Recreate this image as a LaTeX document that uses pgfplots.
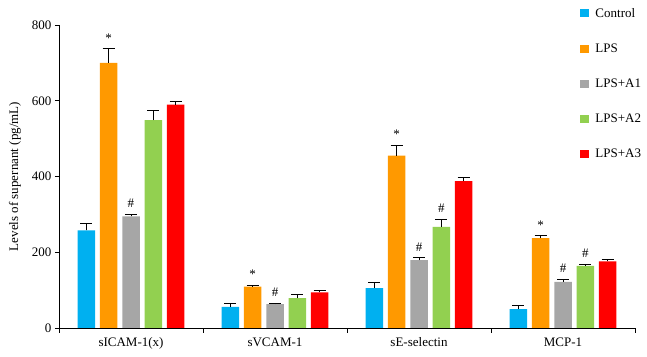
\documentclass[border=0pt]{standalone}
\usepackage{pgfplots}
\pgfplotsset{compat=1.18}
\usepackage{fontspec}
\setmainfont{Liberation Serif}
\definecolor{cCtrl}{HTML}{00B0F0}
\definecolor{cLPS}{HTML}{FF9900}
\definecolor{cA1}{HTML}{A6A6A6}
\definecolor{cA2}{HTML}{92D050}
\definecolor{cA3}{HTML}{FF0000}
\pgfplotsset{
  errb/.style={
    error bars/y dir=plus, error bars/y explicit,
    error bars/error bar style={black, line width=0.8pt},
    error bars/error mark options={black, rotate=90, mark size=6pt, line width=0.8pt}},
  ann/.style={draw=none, fill=none, forget plot,
    nodes near coords, point meta=explicit symbolic,
    every node near coord/.append style={anchor=base, yshift=6.5pt, inner sep=0pt, font=\fontsize{13}{15}\selectfont}}
}
\begin{document}
\begin{tikzpicture}
\begin{axis}[
  scale only axis, width=576pt, height=303pt,
  xmin=-0.5, xmax=3.5, ymin=0, ymax=800,
  ybar, bar width=17.5pt,
  axis x line=bottom, axis y line=left,
  axis line style={-, black, line width=0.8pt},
  clip=false,
  xtick={0,1,2,3},
  xticklabels={sICAM-1(x), sVCAM-1, sE-selectin, MCP-1},
  x tick style={draw=none},
  extra x ticks={-0.5,0.5,1.5,2.5,3.5},
  extra x tick labels={},
  extra x tick style={major tick length=5pt, tick align=outside, x tick style={draw=black, line width=0.8pt}},
  ytick={0,200,400,600,800},
  y tick style={black, line width=0.8pt},
  major tick length=4pt, tick align=outside,
  /pgf/number format/assume math mode=true,
  ticklabel style={font=\fontsize{13}{15}\selectfont},
  xticklabel style={yshift=-2pt},
  ylabel={Levels of supernant (pg/mL)},
  ylabel style={font=\fontsize{13}{15}\selectfont, at={(rel axis cs:0,0.5)}, anchor=center, yshift=44pt},
  legend style={at={(rel axis cs:0.905,1.06)}, anchor=north west, draw=none, fill=none,
    font=\fontsize{13}{15}\selectfont, row sep=23pt, inner sep=0pt,
    nodes={inner sep=1pt},
    /tikz/every odd column/.append style={column sep=5pt}},
  legend cell align=left,
  legend image code/.code={\fill[#1] (0pt,-4pt) rectangle (9pt,4pt);},
]
\addplot[fill=cCtrl, draw=none, bar shift=-44.6pt, errb] coordinates {(0,258) +- (0,19) (1,56) +- (0,9) (2,105) +- (0,16) (3,50) +- (0,10)};
\addlegendentry{Control}
\addplot[fill=cLPS, draw=none, bar shift=-22.3pt, errb] coordinates {(0,700) +- (0,37) (1,109) +- (0,4) (2,455) +- (0,27) (3,237) +- (0,7)};
\addlegendentry{LPS}
\addplot[fill=cA1, draw=none, bar shift=0pt, errb] coordinates {(0,295) +- (0,5) (1,63) +- (0,2) (2,179) +- (0,7) (3,122) +- (0,7)};
\addlegendentry{LPS+A1}
\addplot[fill=cA2, draw=none, bar shift=22.3pt, errb] coordinates {(0,549) +- (0,25) (1,79) +- (0,10) (2,267) +- (0,20) (3,164) +- (0,4)};
\addlegendentry{LPS+A2}
\addplot[fill=cA3, draw=none, bar shift=44.6pt, errb] coordinates {(0,590) +- (0,7) (1,94) +- (0,5) (2,388) +- (0,9) (3,176) +- (0,4)};
\addlegendentry{LPS+A3}
\addplot[ann, bar shift=-22.3pt] coordinates {(0,737) [*] (1,113) [*] (2,482) [*] (3,244) [*]};
\addplot[ann, bar shift=0pt] coordinates {(0,300) [\#] (1,65) [\#] (2,186) [\#] (3,129) [\#]};
\addplot[ann, bar shift=22.3pt] coordinates {(2,287) [\#] (3,168) [\#]};
\coordinate (bl) at (rel axis cs:0,0);
\coordinate (tr) at (rel axis cs:1,1);
\end{axis}
\path[use as bounding box] ([xshift=-59pt,yshift=-29pt]bl) rectangle ([xshift=12pt,yshift=25pt]tr);
\end{tikzpicture}
\end{document}
